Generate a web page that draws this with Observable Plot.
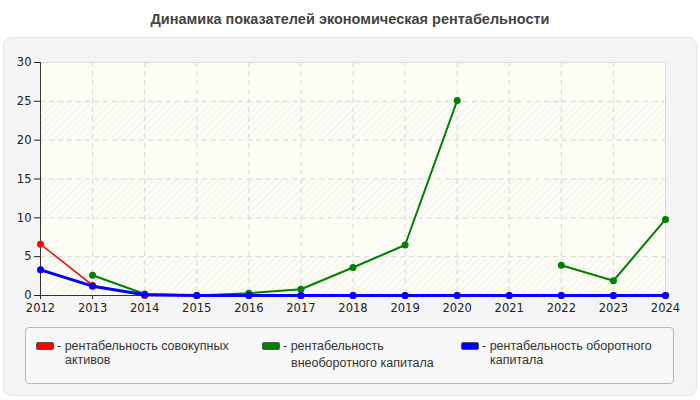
<!DOCTYPE html>
<html>
<head>
<meta charset="utf-8">
<script src="https://cdn.jsdelivr.net/npm/d3@7"></script>
<script src="https://cdn.jsdelivr.net/npm/@observablehq/plot@0.6"></script>
<style>
  html, body { margin: 0; padding: 0; background: #fff; width: 700px; height: 400px; overflow: hidden; }
  #title { position: absolute; left: 0; top: 11px; width: 700px; text-align: center;
    font: bold 14.5px "Liberation Sans", Arial, sans-serif; color: #444; }
  #panel { position: absolute; left: 3px; top: 37px; width: 692px; height: 357px;
    background: #f4f4f4; border: 1px solid #e6e6e6; border-radius: 8px; }
  #chart { position: absolute; left: 0; top: 37px; }
  #legend { position: absolute; left: 25px; top: 327px; width: 647px; height: 55px;
    background: #f8f8f8; border: 1px solid #b8b8b8; border-radius: 4px;
    font: 12.5px "Liberation Sans", Arial, sans-serif; color: #333; }
  .item { position: absolute; top: 11px; line-height: 14px; }
  .sw { position: absolute; top: 3px; left: 0; width: 16px; height: 6px; border: 1px solid #555; border-radius: 2px; }
  .txt { position: absolute; left: 21px; top: 0; white-space: nowrap; }
</style>
</head>
<body>
<div id="title">Динамика показателей экономическая рентабельности</div>
<div id="panel"></div>
<div id="chart"></div>
<div id="legend"></div>
<script>
const years = [2012, 2013, 2014, 2015, 2016, 2017, 2018, 2019, 2020, 2021, 2022, 2023, 2024];
const assets = [6.6, 1.3, 0, 0, 0, 0, 0, 0, 0, 0, 0, 0, 0];
const fixedCapital = [null, 2.6, 0.2, 0, 0.3, 0.8, 3.6, 6.5, 25.1, null, 3.9, 1.9, 9.8];
const workingCapital = [3.3, 1.2, 0.1, 0, 0, 0, 0, 0, 0, 0, 0, 0, 0];
const yTicks = [0, 5, 10, 15, 20, 25, 30];
const seriesNames = ["рентабельность совокупных активов", "рентабельность внеоборотного капитала", "рентабельность оборотного капитала"];
const seriesColors = ["#ff0000", "#008000", "#0000ff"];
const legendLines = [["рентабельность совокупных", "активов"], ["рентабельность", "внеоборотного капитала"], ["рентабельность оборотного", "капитала"]];

const seriesValues = [assets, fixedCapital, workingCapital];
const widths = [1.5, 2, 3];
const radii = [3.5, 3.5, 3.5];

const bands = [];
for (let i = 0; i < yTicks.length - 1; i++) bands.push({y1: yTicks[i], y2: yTicks[i + 1], hatched: i % 2 === 0});

const x0 = years[0], x1 = years[years.length - 1];
const marks = [
  Plot.rect([{}], {x1: () => x0, x2: () => x1, y1: () => yTicks[0], y2: () => yTicks[yTicks.length - 1], fill: "#fdfdf6"}),
  Plot.rect(bands.filter(d => d.hatched), {x1: () => x0, x2: () => x1, y1: "y1", y2: "y2", fill: "#123456"}),
  Plot.gridX({ticks: years, stroke: "#d8d8d8", strokeOpacity: 1, strokeDasharray: "5,4"}),
  Plot.gridY({ticks: yTicks, stroke: "#d8d8d8", strokeOpacity: 1, strokeDasharray: "5,4"}),
  Plot.ruleY([yTicks[yTicks.length - 1]], {stroke: "#dcdcdc"}),
  Plot.ruleX([x1], {stroke: "#dcdcdc"}),
  Plot.axisX({ticks: years, tickFormat: d => String(d), tickSize: 4, tickPadding: 4, fontSize: 11.5, color: "#222", label: null}),
  Plot.axisY({ticks: yTicks, tickSize: 6, tickPadding: 3, fontSize: 11.5, color: "#222", label: null}),
  Plot.ruleX([x0], {stroke: "#333"}),
  Plot.ruleY([0], {stroke: "#333"})
];
seriesValues.forEach((vals, k) => {
  const data = years.map((y, i) => ({year: y, value: vals[i]}));
  marks.push(Plot.line(data, {x: "year", y: "value", stroke: seriesColors[k], strokeWidth: widths[k]}));
  marks.push(Plot.dot(data.filter(d => d.value != null), {x: "year", y: "value", r: radii[k], fill: seriesColors[k], stroke: "none"}));
});

const chart = Plot.plot({
  width: 700, height: 280,
  marginLeft: 40, marginRight: 35, marginTop: 25, marginBottom: 22,
  style: {background: "transparent", fontFamily: "'DejaVu Sans', Verdana, sans-serif", color: "#222"},
  x: {domain: [x0, x1]},
  y: {domain: [yTicks[0], yTicks[yTicks.length - 1]]},
  marks
});

// hatch pattern
const svg = d3.select(chart);
const defs = svg.insert("defs", ":first-child");
const pat = defs.append("pattern").attr("id", "hatch").attr("patternUnits", "userSpaceOnUse")
  .attr("width", 5).attr("height", 5).attr("patternTransform", "rotate(45)");
pat.append("rect").attr("width", 5).attr("height", 5).attr("fill", "#fdfdf6");
pat.append("line").attr("x1", 0).attr("y1", 0).attr("x2", 0).attr("y2", 5).attr("stroke", "#ececec").attr("stroke-width", 1.5);
svg.selectAll('[fill="#123456"]').attr("fill", "url(#hatch)");

document.getElementById("chart").appendChild(chart);

const legend = document.getElementById("legend");
const lefts = [10, 236, 435];
seriesNames.forEach((name, k) => {
  const it = document.createElement("div");
  it.className = "item";
  it.style.left = lefts[k] + "px";
  it.title = name;
  const sw = document.createElement("div");
  sw.className = "sw";
  sw.style.background = seriesColors[k];
  const tx = document.createElement("div");
  tx.className = "txt";
  const l = legendLines[k];
  tx.innerHTML = "- " + l[0] + "<br><span style='display:inline-block;padding-left:8px;" + (k === 1 ? "margin-top:3px" : "") + "'>" + l[1] + "</span>";
  it.appendChild(sw);
  it.appendChild(tx);
  legend.appendChild(it);
});
</script>
</body>
</html>
